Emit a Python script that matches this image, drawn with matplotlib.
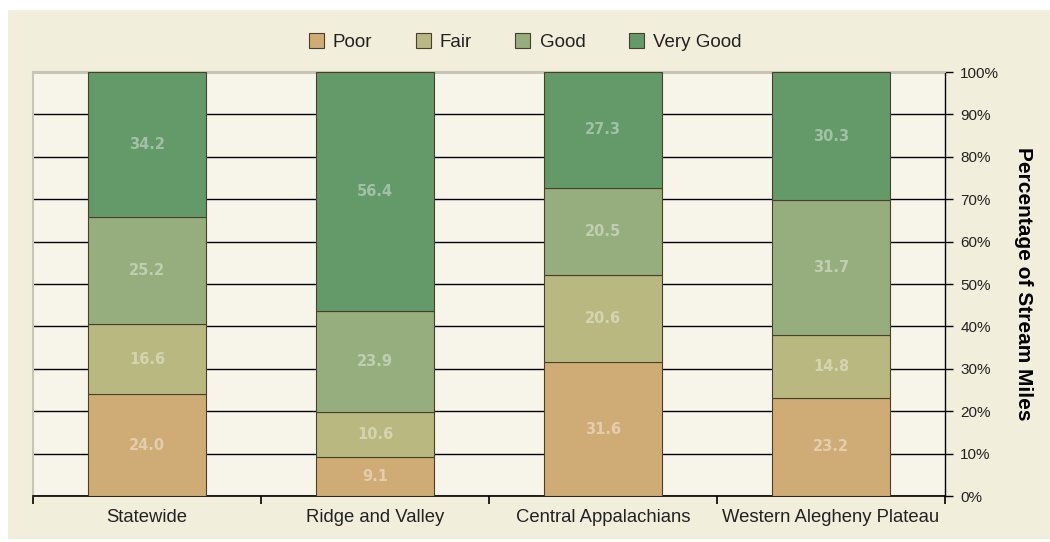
import matplotlib.pyplot as plt
import numpy as np
from matplotlib.patches import Rectangle

plt.rcParams['font.family'] = ['Liberation Sans', 'DejaVu Sans']

categories = ["Statewide", "Ridge and Valley", "Central Appalachians", "Western Alegheny Plateau"]
series_names = ["Poor", "Fair", "Good", "Very Good"]
poor = [24.0, 9.1, 31.6, 23.2]
fair = [16.6, 10.6, 20.6, 14.8]
good = [25.2, 23.9, 20.5, 31.7]
very_good = [34.2, 56.4, 27.3, 30.3]
yticks = [0, 10, 20, 30, 40, 50, 60, 70, 80, 90, 100]
colors = ["#cfac75", "#b8b880", "#96ae7e", "#64996a"]

W, H = 1050, 542
fig = plt.figure(figsize=(W / 100, H / 100), dpi=100, facecolor="white")
fig.patches.append(Rectangle((8 / W, 3 / H), 1 - 8 / W, 1 - 13 / H,
                             transform=fig.transFigure, facecolor="#f2eedc",
                             edgecolor="none", zorder=-10))

ax = fig.add_axes([33 / W, 1 - 496 / H, (945 - 33) / W, (496 - 72) / H])
ax.set_facecolor("#f7f5ea")

x = np.arange(len(categories))
series = [poor, fair, good, very_good]
bottom = np.zeros(len(categories))
handles = []
for name, vals, col in zip(series_names, series, colors):
    vals = np.array(vals)
    b = ax.bar(x, vals, width=0.52, bottom=bottom, color=col,
               edgecolor="#4a3f2a", linewidth=0.8, label=name, zorder=3)
    handles.append(b)
    for xi, v, bt in zip(x, vals, bottom):
        ax.text(xi, bt + v / 2, f"{v:.1f}", ha="center", va="center",
                color="white", alpha=0.4, fontsize=10.5, fontweight="bold",
                family="DejaVu Sans", zorder=4)
    bottom += vals

ax.set_xlim(-0.5, len(categories) - 0.5)
ax.set_ylim(0, 100)
ax.yaxis.tick_right()
ax.yaxis.set_label_position("right")
ax.set_yticks(yticks)
ax.set_yticklabels([f"{t}%" for t in yticks], fontsize=11)
ax.tick_params(axis="y", direction="out", length=6, width=1, colors="black",
               labelcolor="#222222", pad=5)
ax.set_ylabel("Percentage of Stream Miles", rotation=-90, labelpad=24,
              fontsize=15, fontweight="bold")
ax.yaxis.grid(True, color="black", linewidth=1, zorder=1)
ax.set_axisbelow(True)

ax.set_xticks(x)
ax.set_xticklabels(categories, fontsize=13.3, color="#222222")
ax.tick_params(axis="x", length=0, pad=9)
ax.set_xticks(np.arange(-0.5, len(categories)), minor=True)
ax.tick_params(axis="x", which="minor", length=6, width=1.2, direction="out")

for s in ["top", "left"]:
    ax.spines[s].set_color("#c8c5b5")
    ax.spines[s].set_linewidth(1.5)
ax.spines["right"].set_color("black")
ax.spines["right"].set_linewidth(1)
ax.spines["bottom"].set_color("black")
ax.spines["bottom"].set_linewidth(1.2)

leg = fig.legend(handles=handles, labels=series_names, loc="center",
                 bbox_to_anchor=(0.5, 1 - 42 / H), ncol=4, frameon=False,
                 fontsize=13.5, handlelength=0.8, handleheight=0.8,
                 handletextpad=0.5, columnspacing=2.3)
for t in leg.get_texts():
    t.set_color("#222222")

fig.savefig("out.png", dpi=100, facecolor="white")
